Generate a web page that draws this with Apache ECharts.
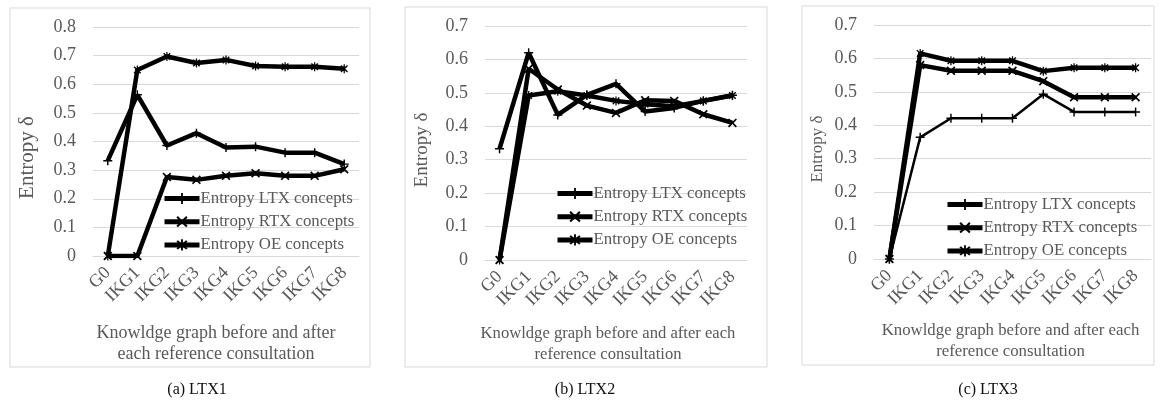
<!DOCTYPE html>
<html>
<head>
<meta charset="utf-8">
<script src="https://cdn.jsdelivr.net/npm/echarts@6/dist/echarts.min.js"></script>
<style>
html,body{margin:0;padding:0;background:#fff;}
#chart{width:1160px;height:402px;}
</style>
</head>
<body>
<div id="chart"></div>
<script>
// ---- data ----
const categories = ['G0','IKG1','IKG2','IKG3','IKG4','IKG5','IKG6','IKG7','IKG8'];
const seriesNames = ['Entropy LTX concepts','Entropy RTX concepts','Entropy OE concepts'];
const panelCaptions = ['(a) LTX1','(b) LTX2','(c) LTX3'];
const yTitle = 'Entropy δ';
const xTitles = [
  'Knowldge graph before and after\neach reference consultation',
  'Knowldge graph before and after each\nreference consultation',
  'Knowldge graph before and after each\nreference consultation'
];
const yMax = [0.8, 0.7, 0.7];

// LTX1
const ltx1LTX = [0.333, 0.563, 0.386, 0.429, 0.379, 0.382, 0.361, 0.361, 0.321];
const ltx1RTX = [0, 0, 0.276, 0.266, 0.280, 0.289, 0.280, 0.280, 0.303];
const ltx1OE  = [0, 0.650, 0.697, 0.674, 0.685, 0.664, 0.661, 0.661, 0.654];
// LTX2
const ltx2LTX = [0.333, 0.620, 0.434, 0.494, 0.527, 0.444, 0.455, 0.476, 0.493];
const ltx2RTX = [0, 0.572, 0.510, 0.462, 0.440, 0.478, 0.476, 0.436, 0.410];
const ltx2OE  = [0, 0.492, 0.505, 0.492, 0.476, 0.466, 0.460, 0.476, 0.492];
// LTX3
const ltx3LTX = [0, 0.364, 0.421, 0.421, 0.421, 0.493, 0.440, 0.440, 0.440];
const ltx3RTX = [0, 0.580, 0.563, 0.563, 0.563, 0.532, 0.484, 0.484, 0.484];
const ltx3OE  = [0, 0.615, 0.593, 0.593, 0.593, 0.562, 0.572, 0.572, 0.572];

const panelData = [
  [ltx1LTX, ltx1RTX, ltx1OE],
  [ltx2LTX, ltx2RTX, ltx2OE],
  [ltx3LTX, ltx3RTX, ltx3OE]
];

// ---- styles ----
const FONT = '"Liberation Serif", "Times New Roman", serif';
const TXT = '#595959';
const GRIDC = '#d9d9d9';
const SYM_PLUS = 'path://M-0.8,-5H0.8V-0.8H5V0.8H0.8V5H-0.8V0.8H-5V-0.8H-0.8Z';
const SYM_X = 'path://M-4.2,-3.1L-3.1,-4.2L0,-1.1L3.1,-4.2L4.2,-3.1L1.1,0L4.2,3.1L3.1,4.2L0,1.1L-3.1,4.2L-4.2,3.1L-1.1,0Z';
const SYM_STAR = 'path://M-0.7,-5H0.7V5H-0.7Z M-4.2,-3.1L-3.1,-4.2L0,-1.1L3.1,-4.2L4.2,-3.1L1.1,0L4.2,3.1L3.1,4.2L0,1.1L-3.1,4.2L-4.2,3.1L-1.1,0Z';
const symbols = [SYM_PLUS, SYM_X, SYM_STAR];

const grids = [
  {left: 93, width: 266, top: 27, height: 229},
  {left: 485, width: 262, top: 26, height: 234},
  {left: 874, width: 277, top: 25, height: 234}
];
const yNameFont = [21, 19, 17];
const yNameGap = [55, 53, 48];
const yNameDown = [16, 7, 7];
const xNameFont = [18, 16.6, 16.8];
const xNameGap = [67, 63, 61];
const xNameShift = [-10, -8, -2];
const legendPos = [
  {left: 162, top: 190},
  {left: 555, top: 185},
  {left: 945, top: 196}
];
const lineWidths = [[4.5, 4.5, 4.5], [4.5, 4.5, 4.5], [2.5, 4.5, 4.5]];
const borders = [
  {x: 10, y: 8, width: 360, height: 359},
  {x: 405, y: 7, width: 362, height: 360},
  {x: 802, y: 6, width: 352, height: 359}
];
const captionPos = [[197, 390], [585, 390], [988, 390]];

const xAxes = [], yAxes = [], series = [], legends = [], graphics = [];

grids.forEach((g, i) => {
  const shift = xNameShift[i];
  xAxes.push({
    type: 'category', gridIndex: i, data: categories, boundaryGap: true,
    axisLine: {show: true, lineStyle: {color: GRIDC, width: 1}},
    axisTick: {show: false},
    axisLabel: {rotate: 45, color: TXT, fontFamily: FONT, fontSize: 18, margin: 14, interval: 0},
    name: xTitles[i], nameLocation: 'middle', nameGap: xNameGap[i],
    nameTextStyle: {
      color: TXT, fontFamily: FONT, fontSize: xNameFont[i], lineHeight: 21,
      padding: shift < 0 ? [0, -2 * shift, 0, 0] : [0, 0, 0, 2 * shift]
    }
  });
  yAxes.push({
    type: 'value', gridIndex: i, min: 0, max: yMax[i], interval: 0.1,
    axisLine: {show: false}, axisTick: {show: false},
    splitLine: {show: true, lineStyle: {color: GRIDC, width: 1}},
    axisLabel: {color: TXT, fontFamily: FONT, fontSize: 18, margin: 17,
      formatter: v => (Math.round(v * 10) / 10).toString()},
    name: yTitle, nameLocation: 'middle', nameGap: yNameGap[i], nameRotate: 90,
    nameTextStyle: {color: TXT, fontFamily: FONT, fontSize: yNameFont[i],
      padding: [0, 2 * yNameDown[i], 0, 0]}
  });
  panelData[i].forEach((arr, k) => {
    series.push({
      type: 'line', name: seriesNames[k], xAxisIndex: i, yAxisIndex: i,
      data: arr,
      symbol: symbols[k], symbolSize: 9, symbolKeepAspect: true,
      showAllSymbol: true,
      lineStyle: {color: '#000', width: lineWidths[i][k]},
      itemStyle: {color: '#000'},
      emphasis: {disabled: true},
      animation: false
    });
  });
  legends.push({
    orient: 'vertical', left: legendPos[i].left, top: legendPos[i].top,
    padding: 0,
    itemWidth: 35, itemHeight: 14, itemGap: 6.2,
    data: seriesNames,
    lineStyle: {width: 5, color: '#000'},
    itemStyle: {color: '#000'},
    textStyle: {color: TXT, fontFamily: FONT, fontSize: 16.8, lineHeight: 16, padding: [0, 0, 0, -4]},
    selectedMode: false
  });
  graphics.push({
    type: 'rect', shape: borders[i], z: -10,
    style: {fill: 'none', stroke: GRIDC, lineWidth: 1}
  });
  graphics.push({
    type: 'text', x: captionPos[i][0], y: captionPos[i][1],
    style: {text: panelCaptions[i], fill: '#111', font: '16px ' + FONT,
      textAlign: 'center', textVerticalAlign: 'middle'}
  });
});

const chart = echarts.init(document.getElementById('chart'), null, {renderer: 'canvas'});
chart.setOption({
  backgroundColor: '#fff',
  animation: false,
  grid: grids,
  xAxis: xAxes,
  yAxis: yAxes,
  legend: legends,
  series: series,
  graphic: graphics
});
</script>
</body>
</html>
